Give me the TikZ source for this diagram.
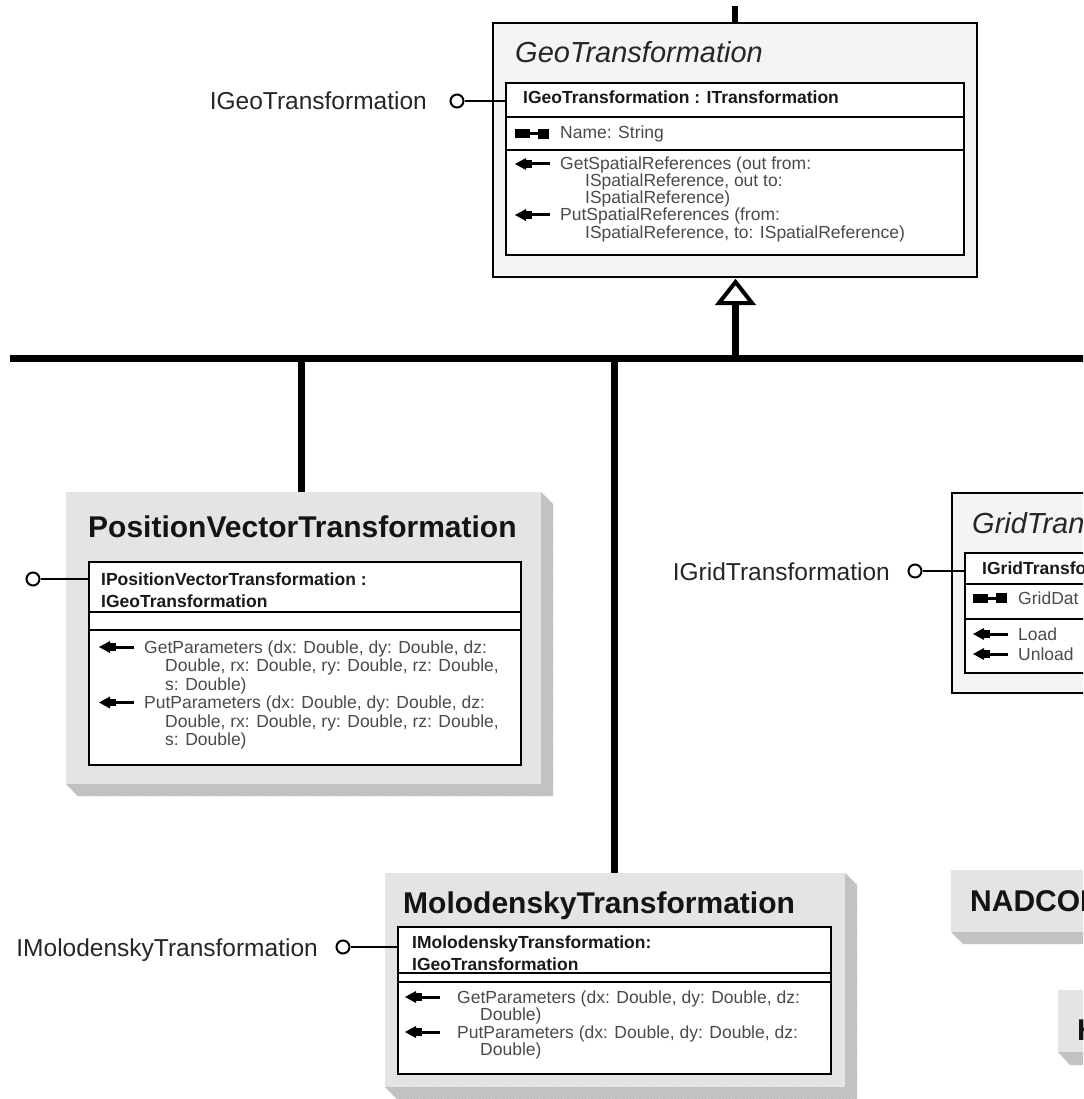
\documentclass[tikz,border=0pt]{standalone}
\usepackage{fontspec}
\setmainfont{Liberation Sans}
\usetikzlibrary{patterns}
\definecolor{faceg}{HTML}{E4E4E4}
\definecolor{absg}{HTML}{F4F4F4}
\definecolor{shadeg}{HTML}{CACACA}
\definecolor{hatchg}{HTML}{B2B2B2}
\definecolor{txtg}{HTML}{4A4A4A}

\tikzset{
  opicon/.pic={
    \fill (0,0) -- (11,-6) -- (11,6) -- cycle;
    \fill (10,-3.8) rectangle (17,3.8);
    \fill (16,-1.5) rectangle (35,1.5);
  },
  attricon/.pic={
    \fill (0,-4.5) rectangle (15,4.5);
    \fill (14,-1.5) rectangle (24,1.5);
    \fill (23,-5) rectangle (34,5);
  }
}

\begin{document}
\begin{tikzpicture}[x=1pt,y=-1pt,
  bar/.style={line width=7pt},
  lolli/.style={line width=1.6pt},
  frame/.style={line width=1.5pt},
  ball/.style={circle, draw, line width=2pt, fill=white, inner sep=0pt, minimum size=13pt},
  shadow/.style={fill=shadeg, postaction={pattern=north east lines, pattern color=hatchg}},
  cname/.style={font=\fontsize{30}{30}\selectfont\bfseries, text=black!92, inner sep=0pt, anchor=base west},
  aname/.style={font=\fontsize{29}{29}\selectfont\itshape, text=black!85, inner sep=0pt, anchor=base west},
  iname/.style={font=\fontsize{17.5}{20}\selectfont\bfseries, text=black!90, inner sep=0pt, anchor=base west},
  mtext/.style={font=\fontsize{17.5}{18}\selectfont, text=txtg, inner sep=0pt, anchor=base west},
  ilabel/.style={font=\fontsize{24.5}{25}\selectfont, text=black!85, inner sep=0pt, anchor=base east}]
\useasboundingbox (0,0) rectangle (1083,1099);
\clip (0,0) rectangle (1083,1099);
\fill[white] (0,0) rectangle (1083,1099);

%%%%%%%%%%%%%-------------GeoTransformation
\draw[frame, fill=absg] (493,23) rectangle (977,277);
\node[aname] (geoname) at (515,63) {GeoTransformation};
\draw[frame, fill=white] (506,83) rectangle (964,255);
\draw[frame] (506,117) -- (964,117);
\draw[frame] (506,150) -- (964,150);
\node[iname] (geoif) at (523,104) {IGeoTransformation : ITransformation};
\pic at (515,134) {attricon};
\node[mtext] (geoattr) at (560,139) {Name: String};
\pic at (515,164) {opicon};
\node[mtext] (geoget) at (560,170) {GetSpatialReferences (out from:};
\node[mtext] (geoget2) at (585,187) {ISpatialReference, out to:};
\node[mtext] (geoget3) at (585,204) {ISpatialReference)};
\pic at (515,215) {opicon};
\node[mtext] (geoput) at (560,221) {PutSpatialReferences (from:};
\node[mtext] (geoput2) at (585,238) {ISpatialReference, to: ISpatialReference)};

\node[ilabel] (geolabel) at (427,110) {IGeoTransformation};
\node[ball] (geoball) at (457,101) {};
\coordinate (geoin) at (506,101);
\draw[lolli] (geoball) -- (geoin);

%%%%%%%%%%%%%-------------herencia
\coordinate (geoup) at (735,6);
\coordinate (geotop) at (735,23);
\draw[line width=6.5pt] (geoup) -- (geotop);
\draw[line width=4pt, fill=white, line join=miter] (735.5,282) -- (752,303) -- (719,303) -- cycle;
\coordinate (tribase) at (735.5,305);
\coordinate (busjoin) at (735.5,358);
\draw[bar] (tribase) -- (busjoin);
\coordinate (busL) at (10,358);
\coordinate (busR) at (1090,358);
\draw[bar] (busL) -- (busR);
\coordinate (pvjoin) at (301,358);
\coordinate (pvtop) at (301,492);
\draw[bar] (pvjoin) -- (pvtop);
\coordinate (mojoin) at (614.5,358);
\coordinate (motop) at (614.5,873);
\draw[bar] (mojoin) -- (motop);

%%%%%%%%%%%%%-------------PositionVectorTransformation
\fill[faceg] (66,492) rectangle (541,784);
\draw[shadow, draw=none] (541,492) -- (553,504) -- (553,796) -- (78,796) -- (66,784) -- (541,784) -- cycle;
\node[cname] (pvname) at (88,537) {PositionVectorTransformation};
\draw[frame, fill=white] (89,562) rectangle (521,765);
\draw[frame] (89,612) -- (521,612);
\draw[frame] (89,630) -- (521,630);
\node[iname] (pvif) at (101,585) {IPositionVectorTransformation :};
\node[iname] (pvif2) at (101,607) {IGeoTransformation};
\pic at (99,647) {opicon};
\node[mtext] (pvget) at (144,653) {GetParameters (dx: Double, dy: Double, dz:};
\node[mtext] (pvget2) at (165,671.5) {Double, rx: Double, ry: Double, rz: Double,};
\node[mtext] (pvget3) at (165,690) {s: Double)};
\pic at (99,702.5) {opicon};
\node[mtext] (pvput) at (144,708.5) {PutParameters (dx: Double, dy: Double, dz:};
\node[mtext] (pvput2) at (165,727) {Double, rx: Double, ry: Double, rz: Double,};
\node[mtext] (pvput3) at (165,745.5) {s: Double)};

\node[ball] (pvball) at (33,579) {};
\coordinate (pvin) at (89,579);
\draw[lolli] (pvball) -- (pvin);

%%%%%%%%%%%%%-------------MolodenskyTransformation
\fill[faceg] (385,873) rectangle (845,1087);
\draw[shadow, draw=none] (845,873) -- (857,885) -- (857,1099) -- (397,1099) -- (385,1087) -- (845,1087) -- cycle;
\node[cname] (moname) at (403,913) {MolodenskyTransformation};
\draw[frame, fill=white] (398,927) rectangle (831,1074);
\draw[frame] (398,973) -- (831,973);
\draw[frame] (398,982) -- (831,982);
\node[iname] (moif) at (412,948) {IMolodenskyTransformation:};
\node[iname] (moif2) at (412,970) {IGeoTransformation};
\pic at (405,997) {opicon};
\node[mtext] (moget) at (457,1003) {GetParameters (dx: Double, dy: Double, dz:};
\node[mtext] (moget2) at (480,1020) {Double)};
\pic at (405,1032) {opicon};
\node[mtext] (moput) at (457,1038) {PutParameters (dx: Double, dy: Double, dz:};
\node[mtext] (moput2) at (480,1055) {Double)};

\node[ilabel] (molabel) at (318,956) {IMolodenskyTransformation};
\node[ball] (moball) at (343,947) {};
\coordinate (moin) at (398,947);
\draw[lolli] (moball) -- (moin);

%%%%%%%%%%%%%-------------GridTransformation
\draw[frame, fill=absg] (952,493) rectangle (1100,693);
\node[aname] (grname) at (972,533) {GridTransformation};
\draw[frame, fill=white] (965,553) rectangle (1100,673);
\draw[frame] (965,584) -- (1100,584);
\draw[frame] (965,619) -- (1100,619);
\node[iname] (grif) at (982,574) {IGridTransformation};
\pic at (973,598) {attricon};
\node[mtext] (grattr) at (1018,604) {GridDat};
\pic at (973,634) {opicon};
\node[mtext] (grload) at (1018,640) {Load};
\pic at (973,654) {opicon};
\node[mtext] (grunload) at (1018,660) {Unload};

\node[ilabel] (grlabel) at (890,580) {IGridTransformation};
\node[ball] (grball) at (915,571) {};
\coordinate (grin) at (965,571);
\draw[lolli] (grball) -- (grin);

%%%%%%%%%%%%%-------------NADCON / HARN
\fill[faceg] (951,870) rectangle (1100,932);
\draw[shadow, draw=none] (951,932) -- (963,944) -- (1100,944) -- (1100,932) -- cycle;
\node[cname] (naname) at (970,911) {NADCONTransformation};
\fill[faceg] (1058,990) rectangle (1100,1052);
\draw[shadow, draw=none] (1058,1052) -- (1070,1065) -- (1100,1065) -- (1100,1052) -- cycle;
\node[cname] (haname) at (1077,1040) {HARNTransformation};

\end{tikzpicture}
\end{document}
